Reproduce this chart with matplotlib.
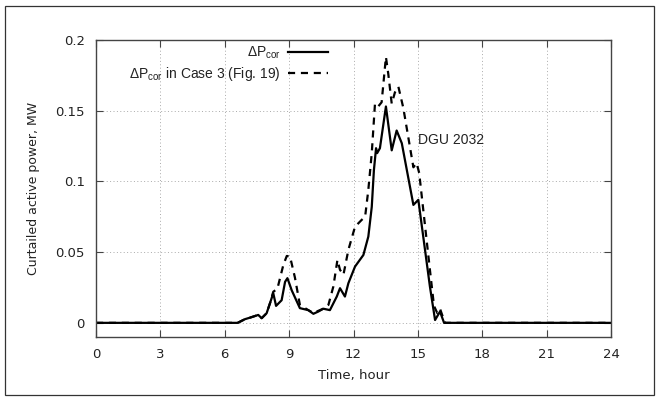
import matplotlib.pyplot as plt
from matplotlib.patches import Rectangle

plt.rcParams['font.family'] = 'DejaVu Sans'
plt.rcParams['mathtext.default'] = 'regular'

# solid curve: curtailed power, DGU 2032
hours_cor = [0, 6.6, 6.94, 7.18, 7.56, 7.72, 7.95, 8.11, 8.26, 8.39, 8.65, 8.81, 8.92, 9.12,
             9.5, 9.89, 10.13, 10.36, 10.59, 10.9, 11.22, 11.37, 11.6, 11.76, 12.07, 12.46,
             12.69, 12.85, 12.95, 13.05, 13.1, 13.23, 13.51, 13.78, 14.01, 14.25, 14.79,
             15.02, 15.56, 15.8, 16.03, 16.22, 24]
p_cor = [0, 0, 0.0026, 0.0037, 0.0056, 0.0033, 0.0068, 0.014, 0.021, 0.012, 0.016, 0.029,
         0.0316, 0.023, 0.0104, 0.009, 0.0064, 0.008, 0.010, 0.009, 0.0186, 0.0245, 0.0186,
         0.028, 0.0398, 0.048, 0.061, 0.082, 0.108, 0.1235, 0.120, 0.1235, 0.153, 0.122,
         0.136, 0.127, 0.0834, 0.087, 0.0257, 0.002, 0.008, 0, 0]

# dashed curve: Case 3 (Fig. 19)
hours_case3 = [0, 6.6, 6.94, 7.18, 7.56, 7.72, 7.95, 8.11, 8.26, 8.45, 8.73, 8.89, 9.04,
               9.27, 9.5, 9.89, 10.13, 10.59, 10.83, 11.06, 11.25, 11.37, 11.53, 11.76,
               12.07, 12.38, 12.54, 12.69, 12.85, 13.0, 13.15, 13.31, 13.51, 13.62, 13.78,
               13.93, 14.09, 14.32, 14.79, 14.94, 15.06, 15.56, 15.75, 15.9, 16.03, 16.26, 24]
p_case3 = [0, 0, 0.0026, 0.0037, 0.0056, 0.0033, 0.0068, 0.014, 0.022, 0.024, 0.041, 0.0473,
           0.047, 0.032, 0.0127, 0.009, 0.007, 0.010, 0.0127, 0.0257, 0.0445, 0.0375, 0.034,
           0.0516, 0.068, 0.0728, 0.075, 0.094, 0.12, 0.155, 0.153, 0.156, 0.188, 0.176,
           0.155, 0.163, 0.167, 0.152, 0.110, 0.113, 0.106, 0.0375, 0.012, 0.007, 0.01, 0, 0]

x_ticks = [0, 3, 6, 9, 12, 15, 18, 21, 24]
y_ticks = [0, 0.05, 0.1, 0.15, 0.2]
y_tick_labels = ['0', '0.05', '0.1', '0.15', '0.2']

txt = '#222222'
fig = plt.figure(figsize=(6.59, 3.99), dpi=100)
ax = fig.add_axes([0.1457, 0.1554, 0.7815, 0.7443])

# outer frame
fig.patches.append(Rectangle((0.008, 0.01), 0.985, 0.976, transform=fig.transFigure,
                             fill=False, edgecolor='#333333', linewidth=0.9))

ax.plot(hours_cor, p_cor, color='black', lw=1.6, label=r'ΔP$_{cor}$')
ax.plot(hours_case3, p_case3, color='black', lw=1.6, dashes=(3.2, 2.6),
        label=r'ΔP$_{cor}$ in Case 3 (Fig. 19)')

ax.set_xlim(0, 24)
ax.set_ylim(-0.01, 0.2)
ax.set_xticks(x_ticks)
ax.set_yticks(y_ticks)
ax.set_yticklabels(y_tick_labels)
ax.tick_params(direction='in', length=5, width=0.8, colors='#444444', labelcolor=txt,
               labelsize=9.5, top=True, right=True, pad=8)
ax.grid(True, linestyle=(0, (1, 2.5)), color='#aaaaaa', linewidth=0.7)
for s in ax.spines.values():
    s.set_color('#444444')
    s.set_linewidth(1.0)

ax.set_xlabel('Time, hour', fontsize=9.5, color=txt, labelpad=6)
ax.set_ylabel('Curtailed active power, MW', fontsize=9, color=txt, labelpad=11)

ax.text(15.0, 0.129, 'DGU 2032', fontsize=10, color=txt, va='center', ha='left',
        family='Liberation Sans')

leg = ax.legend(loc='upper right', bbox_to_anchor=(0.475, 1.025), frameon=False,
                markerfirst=False, handlelength=2.9, labelspacing=0.25,
                handletextpad=0.5, prop={'family': 'Liberation Sans', 'size': 10})
for t in leg.get_texts():
    t.set_color(txt)
    t.set_ha('right')

fig.savefig('out.png', dpi=100)
